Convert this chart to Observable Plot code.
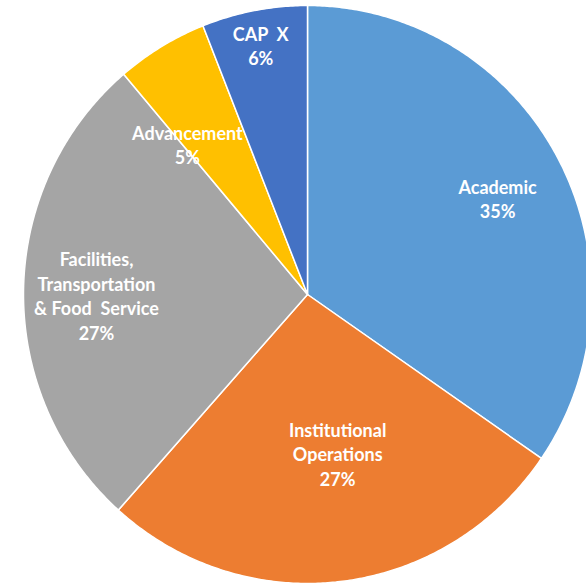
<!DOCTYPE html>
<html>
<head>
<meta charset="utf-8">
<script src="https://cdn.jsdelivr.net/npm/d3@7"></script>
<script src="https://cdn.jsdelivr.net/npm/@observablehq/plot@0.6"></script>
<style>
  html, body { margin: 0; padding: 0; background: #fff; overflow: hidden; }
  #chart svg text { white-space: pre; }
</style>
</head>
<body>
<div id="chart"></div>
<script>
// Data
const categories = ["Academic", "Institutional Operations", "Facilities, Transportation & Food Service", "Advancement", "CAP X"];
const labelLines = ["Academic", "Institutional\nOperations", "Facilities,\nTransportation\n& Food  Service", "Advancement", "CAP  X"];
const values = [34.6, 27.0, 27.2, 5.2, 6.0];
const colors = ["#5B9BD5", "#ED7D31", "#A5A5A5", "#FFC000", "#4472C4"];

// Layout: label radial position (fraction of radius) and angle nudge (degrees)
const labelRadius = [0.748, 0.56, 0.743, 0.671, 0.879];
const labelNudge = [1.2, -4.1, -0.9, -8.1, 0];

const total = d3.sum(values);
const toRad = Math.PI / 180;
const polys = [];
const labels = [];
let acc = 0;
values.forEach((v, i) => {
  const a0 = acc / total * 360;
  const a1 = (acc + v) / total * 360;
  acc += v;
  polys.push({name: categories[i], x: 0, y: 0});
  const steps = Math.max(2, Math.ceil((a1 - a0) / 0.5));
  for (let k = 0; k <= steps; k++) {
    const a = (a0 + (a1 - a0) * k / steps) * toRad;
    polys.push({name: categories[i], x: Math.sin(a), y: -Math.cos(a)});
  }
  polys.push({name: categories[i], x: 0, y: 0});
  const am = ((a0 + a1) / 2 + labelNudge[i]) * toRad;
  labels.push({
    name: categories[i],
    text: labelLines[i] + "\n" + Math.round(v / total * 100) + "%",
    x: labelRadius[i] * Math.sin(am),
    y: -labelRadius[i] * Math.cos(am)
  });
});

const chart = Plot.plot({
  width: 586,
  height: 587,
  margin: 0,
  style: {background: "#fff"},
  x: {domain: [-1, 1], range: [23, 591], axis: null},
  y: {domain: [-1, 1], range: [5, 583], axis: null},
  color: {domain: categories, range: colors},
  marks: [
    Plot.line(polys, {
      x: "x", y: "y", z: "name", fill: "name",
      stroke: "#fff", strokeWidth: 1.5, strokeLinejoin: "round", curve: "linear"
    }),
    Plot.text(labels, {
      x: "x", y: "y", text: "text",
      fill: "#fff", fontSize: 18, fontWeight: "bold",
      fontFamily: "Lato, 'Open Sans', sans-serif",
      lineHeight: 1.36
    })
  ]
});
document.getElementById("chart").appendChild(chart);
</script>
</body>
</html>
